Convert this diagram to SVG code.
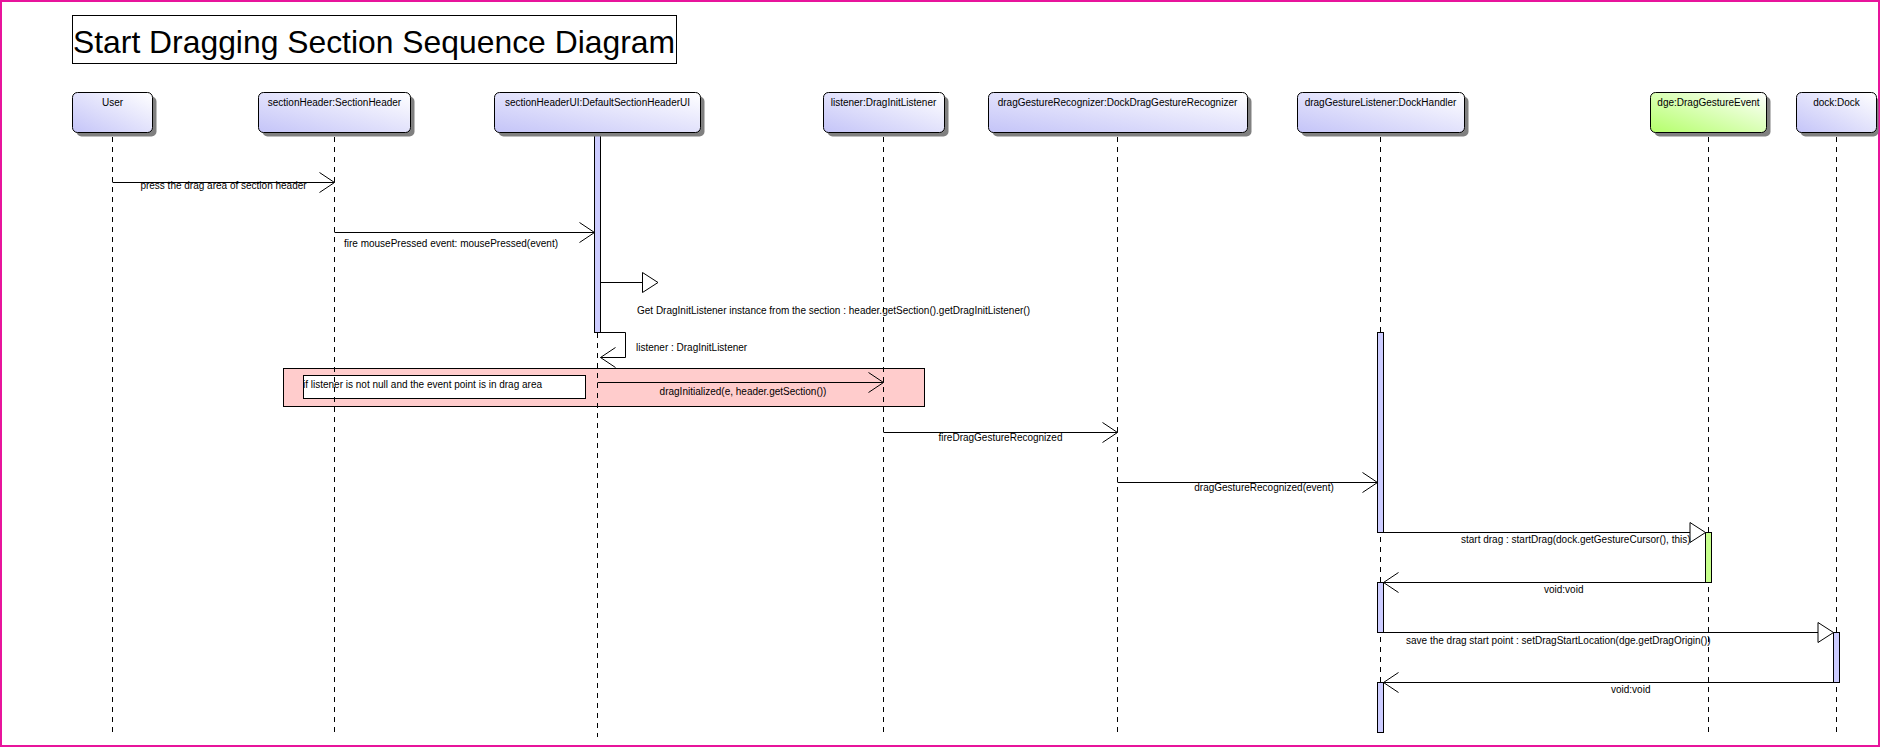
<svg xmlns="http://www.w3.org/2000/svg" width="1881" height="748" viewBox="0 0 1881 748">
<style>
text{font-family:"Liberation Sans",Arial,sans-serif;font-size:10px;fill:#000}
.title{font-size:32px}
.hdr{fill:url(#gBlue);stroke:#000;stroke-width:1}
.hdrG{fill:url(#gGreen);stroke:#000;stroke-width:1}
.shd{fill:#808080}
.life{stroke:#000;stroke-width:1;stroke-dasharray:5,5;fill:none}
.bar{fill:#ccccff;stroke:#000;stroke-width:1}
.barG{fill:#c6ff8c;stroke:#000;stroke-width:1}
.msg{stroke:#000;stroke-width:1;fill:none}
.tri{fill:#fff;stroke:#000;stroke-width:1}
.mid{text-anchor:middle}
</style>
<defs>
<linearGradient id="gBlue" x1="0" y1="1" x2="1" y2="0">
<stop offset="0" stop-color="#c4c4f8"/>
<stop offset="1" stop-color="#ffffff"/>
</linearGradient>
<linearGradient id="gGreen" x1="0" y1="1" x2="1" y2="0">
<stop offset="0" stop-color="#b4ff6a"/>
<stop offset="1" stop-color="#ffffff"/>
</linearGradient>
</defs>
<rect x="0" y="0" width="1881" height="748" fill="#fff"/>
<rect x="1" y="1" width="1878" height="745" fill="none" stroke="#e8149c" stroke-width="2"/>

<g id="title">
<rect x="72.5" y="15.5" width="604" height="48" fill="#fff" stroke="#000"/>
<text class="title" x="73" y="53" textLength="602" lengthAdjust="spacingAndGlyphs">Start Dragging Section Sequence Diagram</text>
</g>

<g id="alt-fragment">
<rect x="283.5" y="368.5" width="641" height="38" fill="#ffcccc" stroke="#000"/>
<rect x="303.5" y="375.5" width="282" height="23" fill="#fff" stroke="#000"/>
<text x="303" y="388">if listener is not null and the event point is in drag area</text>
</g>

<g id="lifelines">
<line class="life" x1="112.5" y1="137" x2="112.5" y2="737"/>
<line class="life" x1="334.5" y1="137" x2="334.5" y2="737"/>
<line class="life" x1="597.5" y1="333" x2="597.5" y2="737"/>
<line class="life" x1="883.5" y1="137" x2="883.5" y2="737"/>
<line class="life" x1="1117.5" y1="137" x2="1117.5" y2="737"/>
<line class="life" x1="1380.5" y1="137" x2="1380.5" y2="737"/>
<line class="life" x1="1708.5" y1="137" x2="1708.5" y2="737"/>
<line class="life" x1="1836.5" y1="137" x2="1836.5" y2="737"/>
</g>

<g id="activations">
<rect class="bar" x="594.5" y="132.5" width="6" height="200"/>
<rect class="bar" x="1377.5" y="332.5" width="6" height="200"/>
<rect class="bar" x="1377.5" y="582.5" width="6" height="50"/>
<rect class="bar" x="1377.5" y="682.5" width="6" height="50"/>
<rect class="barG" x="1705.5" y="532.5" width="6" height="50"/>
<rect class="bar" x="1833.5" y="632.5" width="6" height="50"/>
</g>

<g id="connectors">
<path class="msg" d="M112.5,182.5H334.5M319.5,172.5L334.5,182.5L319.5,192.5"/>
<text class="mid" x="223.5" y="189">press the drag area of section header</text>

<path class="msg" d="M334.5,232.5H594.5M579.5,222.5L594.5,232.5L579.5,242.5"/>
<text x="344" y="247">fire mousePressed event: mousePressed(event)</text>

<path class="msg" d="M600.5,282.5H642.5"/>
<path class="tri" d="M642.5,272.5L658,282.5L642.5,292.5Z"/>
<text x="637" y="314">Get DragInitListener instance from the section : header.getSection().getDragInitListener()</text>

<path class="msg" d="M594.5,332.5H625.5V357.5H600.5M615.5,347.5L600.5,357.5L615.5,367.5"/>
<text x="636" y="351">listener : DragInitListener</text>

<path class="msg" d="M597.5,382.5H883.5M868.5,372.5L883.5,382.5L868.5,392.5"/>
<text class="mid" x="743" y="395">dragInitialized(e, header.getSection())</text>

<path class="msg" d="M883.5,432.5H1117.5M1102.5,422.5L1117.5,432.5L1102.5,442.5"/>
<text class="mid" x="1000.5" y="441">fireDragGestureRecognized</text>

<path class="msg" d="M1117.5,482.5H1377.5M1362.5,472.5L1377.5,482.5L1362.5,492.5"/>
<text class="mid" x="1264" y="491">dragGestureRecognized(event)</text>

<path class="msg" d="M1377.5,532.5H1690"/>
<path class="tri" d="M1690,522.5L1705.5,532.5L1690,542.5Z"/>
<text x="1461" y="543">start drag : startDrag(dock.getGestureCursor(), this)</text>

<path class="msg" d="M1705.5,582.5H1383.5M1398.5,572.5L1383.5,582.5L1398.5,592.5"/>
<text x="1544" y="592.5">void:void</text>

<path class="msg" d="M1377.5,632.5H1818"/>
<path class="tri" d="M1818,622.5L1833.5,632.5L1818,642.5Z"/>
<text x="1406" y="644">save the drag start point : setDragStartLocation(dge.getDragOrigin())</text>

<path class="msg" d="M1833.5,682.5H1383.5M1398.5,672.5L1383.5,682.5L1398.5,692.5"/>
<text x="1611" y="692.5">void:void</text>
</g>

<g id="user">
<rect class="shd" x="76.5" y="96.5" width="80" height="40" rx="5"/>
<rect class="hdr" x="72.5" y="92.5" width="80" height="40" rx="5"/>
<text class="mid" x="112.5" y="106">User</text>
</g>
<g id="sectionHeader">
<rect class="shd" x="262.5" y="96.5" width="152" height="40" rx="5"/>
<rect class="hdr" x="258.5" y="92.5" width="152" height="40" rx="5"/>
<text class="mid" x="334.5" y="106">sectionHeader:SectionHeader</text>
</g>
<g id="sectionHeaderUI">
<rect class="shd" x="498.5" y="96.5" width="206" height="40" rx="5"/>
<rect class="hdr" x="494.5" y="92.5" width="206" height="40" rx="5"/>
<text class="mid" x="597.5" y="106">sectionHeaderUI:DefaultSectionHeaderUI</text>
</g>
<g id="listener">
<rect class="shd" x="827.5" y="96.5" width="121" height="40" rx="5"/>
<rect class="hdr" x="823.5" y="92.5" width="121" height="40" rx="5"/>
<text class="mid" x="883.5" y="106">listener:DragInitListener</text>
</g>
<g id="dragGestureRecognizer">
<rect class="shd" x="992.5" y="96.5" width="259" height="40" rx="5"/>
<rect class="hdr" x="988.5" y="92.5" width="259" height="40" rx="5"/>
<text class="mid" x="1117.5" y="106">dragGestureRecognizer:DockDragGestureRecognizer</text>
</g>
<g id="dragGestureListener">
<rect class="shd" x="1301.5" y="96.5" width="167" height="40" rx="5"/>
<rect class="hdr" x="1297.5" y="92.5" width="167" height="40" rx="5"/>
<text class="mid" x="1380.5" y="106">dragGestureListener:DockHandler</text>
</g>
<g id="dge">
<rect class="shd" x="1654.5" y="96.5" width="116" height="40" rx="5"/>
<rect class="hdrG" x="1650.5" y="92.5" width="116" height="40" rx="5"/>
<text class="mid" x="1708.5" y="106">dge:DragGestureEvent</text>
</g>
<g id="dock">
<rect class="shd" x="1800.5" y="96.5" width="78" height="40" rx="5"/>
<rect class="hdr" x="1796.5" y="92.5" width="80" height="40" rx="5"/>
<text class="mid" x="1836.5" y="106">dock:Dock</text>
</g>
</svg>
